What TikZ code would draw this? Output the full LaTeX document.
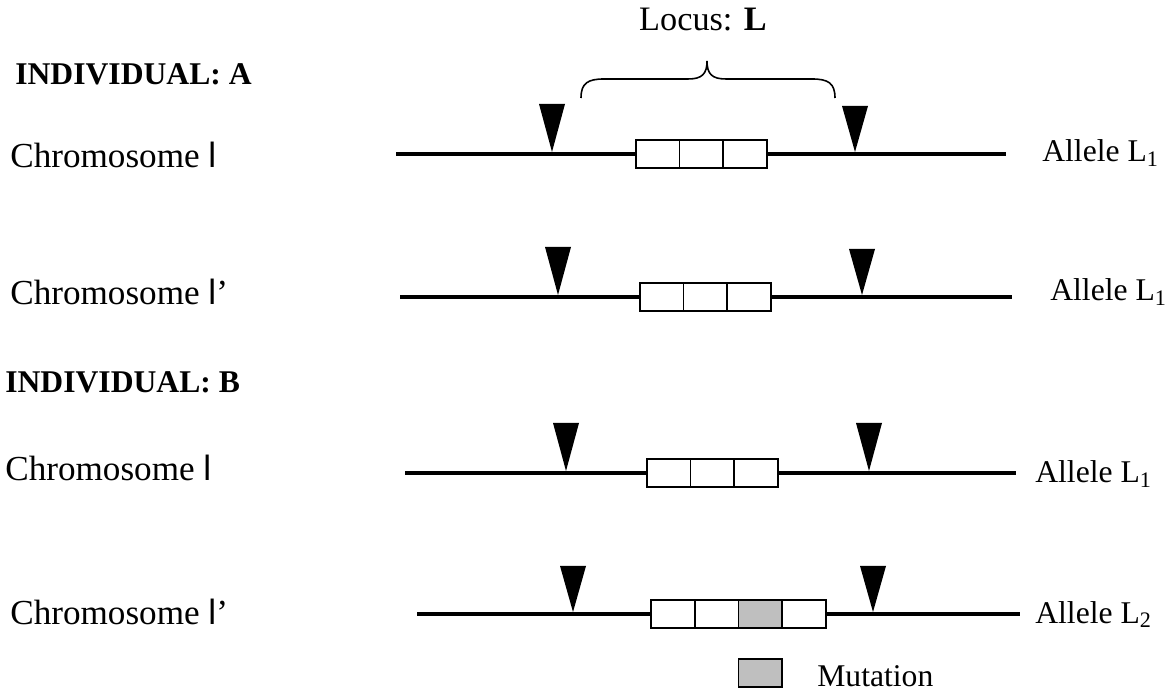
\documentclass[tikz,border=0pt]{standalone}
\usepackage{fontspec}
\setmainfont{Liberation Serif}
\setsansfont{Liberation Sans}
\usetikzlibrary{positioning}

\tikzset{
  chrom/.style={line width=1.8pt},
  cell/.style={draw, line width=0.9pt, fill=white, inner sep=0pt, outer sep=0pt,
               minimum width=0.873cm, minimum height=0.56cm},
  mutcell/.style={cell, fill=gray!50},
  cutsite/.style={fill=black},
  lbl/.style={font=\fontsize{18}{21}\selectfont, inner sep=0pt},
  biglbl/.style={font=\fontsize{20}{23}\selectfont, inner sep=0pt}
}

\begin{document}
\begin{tikzpicture}[x=0.02cm, y=-0.02cm]
\useasboundingbox (0,0) rectangle (1170,695);

% locus and brace
\node[lbl, font=\fontsize{19.5}{22}\selectfont, anchor=base] (locus) at (703,31) {Locus: \textbf{L}};
\draw[line width=0.9pt] (581,98) .. controls (581,83) and (588,79) .. (604,79) -- (688,79)
  .. controls (702,79) and (707,74) .. (707,61) .. controls (707,74) and (712,79) .. (726,79)
  -- (812,79) .. controls (828,79) and (835,83) .. (835,98);

\node[lbl, anchor=base west] (indA) at (15,85) {\textbf{INDIVIDUAL: A}};
\node[lbl, anchor=base west] (indB) at (5,393) {\textbf{INDIVIDUAL: B}};

\node[biglbl, anchor=base west] (chrA1) at (10,168) {Chromosome {\sffamily l}};
\node[biglbl, anchor=base west] (chrA2) at (10,305) {Chromosome {\sffamily l}’};
\node[biglbl, anchor=base west] (chrB1) at (5,481) {Chromosome {\sffamily l}};
\node[biglbl, anchor=base west] (chrB2) at (10,624) {Chromosome {\sffamily l}’};

\node[lbl, anchor=base west] (alA1) at (1042,162) {Allele L\textsubscript{1}};
\node[lbl, anchor=base west] (alA2) at (1050,301) {Allele L\textsubscript{1}};
\node[lbl, anchor=base west] (alB1) at (1035,483) {Allele L\textsubscript{1}};
\node[lbl, anchor=base west] (alB2) at (1035,623) {Allele L\textsubscript{2}};

% individual A, chromosome l
\begin{scope}
\node[cell] (c1) at (657.8,154) {};
\node[cell, right=0pt of c1] (c2) {};
\node[cell, right=0pt of c2] (c3) {};
\coordinate (e1) at (396,154);
\coordinate (e2) at (1006,154);
\draw[chrom] (e1) -- (c1.west);
\draw[chrom] (c3.east) -- (e2);
\coordinate (s1) at (552,152);
\coordinate (s2) at (855,152);
\fill[cutsite] (s1) -- ++(-13,-48) -- ++(26,0) -- cycle;
\fill[cutsite] (s2) -- ++(-13,-46) -- ++(26,0) -- cycle;
\end{scope}

% individual A, chromosome l'
\begin{scope}[shift={(4,143)}]
\node[cell] (c1) at (657.8,154) {};
\node[cell, right=0pt of c1] (c2) {};
\node[cell, right=0pt of c2] (c3) {};
\coordinate (e1) at (396,154);
\coordinate (e2) at (1008,154);
\draw[chrom] (e1) -- (c1.west);
\draw[chrom] (c3.east) -- (e2);
\coordinate (s1) at (554,152);
\coordinate (s2) at (858,152);
\fill[cutsite] (s1) -- ++(-13,-48) -- ++(26,0) -- cycle;
\fill[cutsite] (s2) -- ++(-13,-46) -- ++(26,0) -- cycle;
\end{scope}

% individual B, chromosome l
\begin{scope}[shift={(11,319)}]
\node[cell] (c1) at (657.8,154) {};
\node[cell, right=0pt of c1] (c2) {};
\node[cell, right=0pt of c2] (c3) {};
\coordinate (e1) at (394,154);
\coordinate (e2) at (1005,154);
\draw[chrom] (e1) -- (c1.west);
\draw[chrom] (c3.east) -- (e2);
\coordinate (s1) at (555,152);
\coordinate (s2) at (858,152);
\fill[cutsite] (s1) -- ++(-13,-48) -- ++(26,0) -- cycle;
\fill[cutsite] (s2) -- ++(-13,-48) -- ++(26,0) -- cycle;
\end{scope}

% individual B, chromosome l' (mutated)
\begin{scope}
\node[cell] (m1) at (673,614) {};
\node[cell, right=0pt of m1] (m2) {};
\node[mutcell, right=0pt of m2] (m3) {};
\node[cell, right=0pt of m3] (m4) {};
\coordinate (e1) at (417,614);
\coordinate (e2) at (1020,614);
\draw[chrom] (e1) -- (m1.west);
\draw[chrom] (m4.east) -- (e2);
\coordinate (s1) at (573,612);
\coordinate (s2) at (873,612);
\fill[cutsite] (s1) -- ++(-13,-46) -- ++(26,0) -- cycle;
\fill[cutsite] (s2) -- ++(-13,-46) -- ++(26,0) -- cycle;
\end{scope}

% legend
\node[mutcell, below=0.62cm of m3] (key) {};
\node[lbl, anchor=base west] (keylbl) at (817,686) {Mutation};

\end{tikzpicture}
\end{document}
